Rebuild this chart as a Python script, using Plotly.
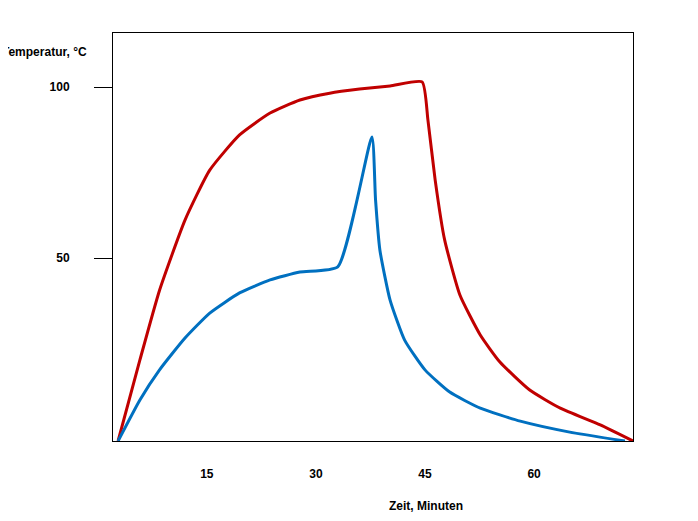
import plotly.graph_objects as go

red_x = [2.8, 5.8, 8.5, 12.0, 15.4, 19.5, 23.7, 27.8, 31.9, 36.0, 40.2, 44.6, 45.4, 46.4, 47.7, 49.8, 52.6, 55.3, 59.4, 63.6, 69.1, 73.6]
red_y = [-3.5, 20.2, 40.6, 61.1, 75.7, 86.0, 92.4, 96.2, 98.2, 99.4, 100.3, 101.5, 90.4, 72.8, 55.3, 39.2, 27.5, 19.6, 11.4, 6.1, 1.2, -3.5]
blue_x = [2.8, 5.8, 8.5, 12.0, 15.4, 19.5, 23.7, 27.8, 33.0, 37.7, 38.2, 38.8, 40.2, 42.2, 45.0, 48.4, 52.6, 58.1, 64.9, 72.5]
blue_y = [-3.5, 8.5, 17.3, 26.6, 33.9, 39.8, 43.6, 45.9, 47.4, 85.4, 67.0, 52.3, 37.7, 26.0, 17.3, 10.8, 6.1, 2.3, -0.9, -3.5]
x_ticks = [15, 30, 45, 60]
y_ticks = [50, 100]

font = dict(family="Liberation Sans", size=12, color="black")
fig = go.Figure()
fig.add_trace(go.Scatter(x=red_x, y=red_y, mode="lines", line=dict(color="#C00000", width=3, shape="spline", smoothing=0.5)))
fig.add_trace(go.Scatter(x=blue_x, y=blue_y, mode="lines", line=dict(color="#0070C0", width=3, shape="spline", smoothing=0.5)))
fig.update_layout(
    width=698, height=521, showlegend=False,
    paper_bgcolor="white", plot_bgcolor="white",
    margin=dict(l=105, r=73, t=25, b=88),
    font=font,
    xaxis=dict(range=[2.1, 73.6], tickvals=x_ticks, ticktext=[f"<b>{v}</b>" for v in x_ticks],
               showgrid=False, zeroline=False, showline=True, linecolor="black", mirror=True,
               ticks="", ticklabelstandoff=22),
    yaxis=dict(range=[-3.5, 115.8], tickvals=y_ticks, ticktext=[f"<b>{v}</b>" for v in y_ticks],
               showgrid=False, zeroline=False, showline=True, linecolor="black", mirror=True,
               ticks="outside", ticklen=18, tickcolor="black", ticklabelstandoff=22),
    annotations=[
        dict(text="<b>Temperatur, °C</b>", xref="paper", yref="paper", x=-113/520, y=1-(52-33)/408,
             xanchor="left", yanchor="middle", showarrow=False, font=font),
        dict(text="<b>Zeit, Minuten</b>", xref="paper", yref="paper", x=(426-113)/520, y=-(506-441)/408,
             xanchor="center", yanchor="middle", showarrow=False, font=font),
    ],
)
fig.write_html("out.html")
